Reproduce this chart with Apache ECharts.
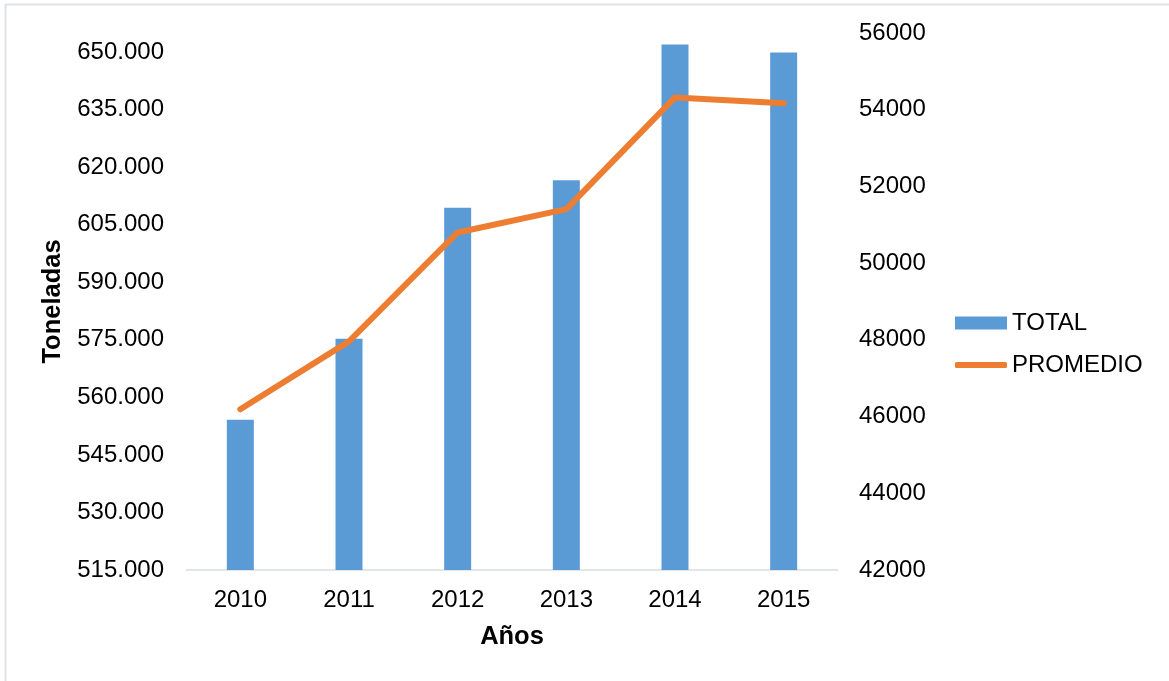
<!DOCTYPE html>
<html>
<head>
<meta charset="utf-8">
<script src="https://cdn.jsdelivr.net/npm/echarts@6/dist/echarts.min.js"></script>
<style>
html,body{margin:0;padding:0;background:#fff;}
#chart{width:1169px;height:681px;}
</style>
</head>
<body>
<div id="chart"></div>
<script>
const categories = ['2010', '2011', '2012', '2013', '2014', '2015'];
const totalValues = [554200, 575300, 609450, 616600, 652000, 649900];
const promedioValues = [46190, 47960, 50800, 51410, 54320, 54170];
const seriesNames = ['TOTAL', 'PROMEDIO'];
const xAxisTitle = 'Años';
const yAxisTitle = 'Toneladas';

const FONT = 'Liberation Sans, Arial, sans-serif';

function fmtThousands(v) {
  return String(Math.round(v)).replace(/\B(?=(\d{3})+(?!\d))/g, '.');
}

const legendText = {fontFamily: FONT, fontSize: 24, color: '#000'};

const chart = echarts.init(document.getElementById('chart'), null, {renderer: 'canvas'});
chart.setOption({
  backgroundColor: '#ffffff',
  animation: false,
  textStyle: {fontFamily: FONT},
  graphic: [
    {type: 'line', shape: {x1: 5, y1: 4.5, x2: 1169, y2: 4.5}, style: {stroke: '#dfe3e8', lineWidth: 2}},
    {type: 'line', shape: {x1: 5.5, y1: 4, x2: 5.5, y2: 681}, style: {stroke: '#dfe3e8', lineWidth: 2}}
  ],
  grid: {left: 186, right: 331, top: 33, bottom: 111, containLabel: false},
  legend: [
    {
      orient: 'vertical',
      left: 950,
      top: 306,
      itemWidth: 52,
      itemHeight: 13,
      textStyle: legendText,
      data: [{name: seriesNames[0], icon: 'rect'}]
    },
    {
      orient: 'vertical',
      left: 950,
      top: 348,
      itemWidth: 52,
      itemHeight: 6,
      textStyle: legendText,
      data: [{name: seriesNames[1], icon: 'roundRect'}]
    }
  ],
  xAxis: {
    type: 'category',
    data: categories,
    name: xAxisTitle,
    nameLocation: 'middle',
    nameGap: 54,
    nameTextStyle: {fontFamily: FONT, fontSize: 25.5, fontWeight: 'bold', color: '#000'},
    axisLine: {lineStyle: {color: '#d9dde3', width: 1.5}},
    axisTick: {show: false},
    axisLabel: {fontFamily: FONT, fontSize: 24, color: '#000', margin: 18}
  },
  yAxis: [
    {
      type: 'value',
      min: 515000,
      max: 655000,
      interval: 15000,
      name: yAxisTitle,
      nameLocation: 'middle',
      nameRotate: 90,
      nameGap: 114,
      nameTextStyle: {fontFamily: FONT, fontSize: 25.5, fontWeight: 'bold', color: '#000'},
      axisLine: {show: false},
      axisTick: {show: false},
      splitLine: {show: false},
      axisLabel: {
        fontFamily: FONT, fontSize: 24, color: '#000', margin: 22,
        showMaxLabel: false,
        formatter: function (v) { return v > 650000 ? '' : fmtThousands(v); }
      }
    },
    {
      type: 'value',
      min: 42000,
      max: 56000,
      interval: 2000,
      position: 'right',
      axisLine: {show: false},
      axisTick: {show: false},
      splitLine: {show: false},
      axisLabel: {
        fontFamily: FONT, fontSize: 24, color: '#000', margin: 21,
        formatter: function (v) { return String(v); }
      }
    }
  ],
  series: [
    {
      name: seriesNames[0],
      type: 'bar',
      yAxisIndex: 0,
      data: totalValues,
      barWidth: 27,
      itemStyle: {color: '#5B9BD5'}
    },
    {
      name: seriesNames[1],
      type: 'line',
      yAxisIndex: 1,
      data: promedioValues,
      symbol: 'none',
      lineStyle: {color: '#ED7D31', width: 6, cap: 'round', join: 'round'},
      itemStyle: {color: '#ED7D31'}
    }
  ]
});
</script>
</body>
</html>
